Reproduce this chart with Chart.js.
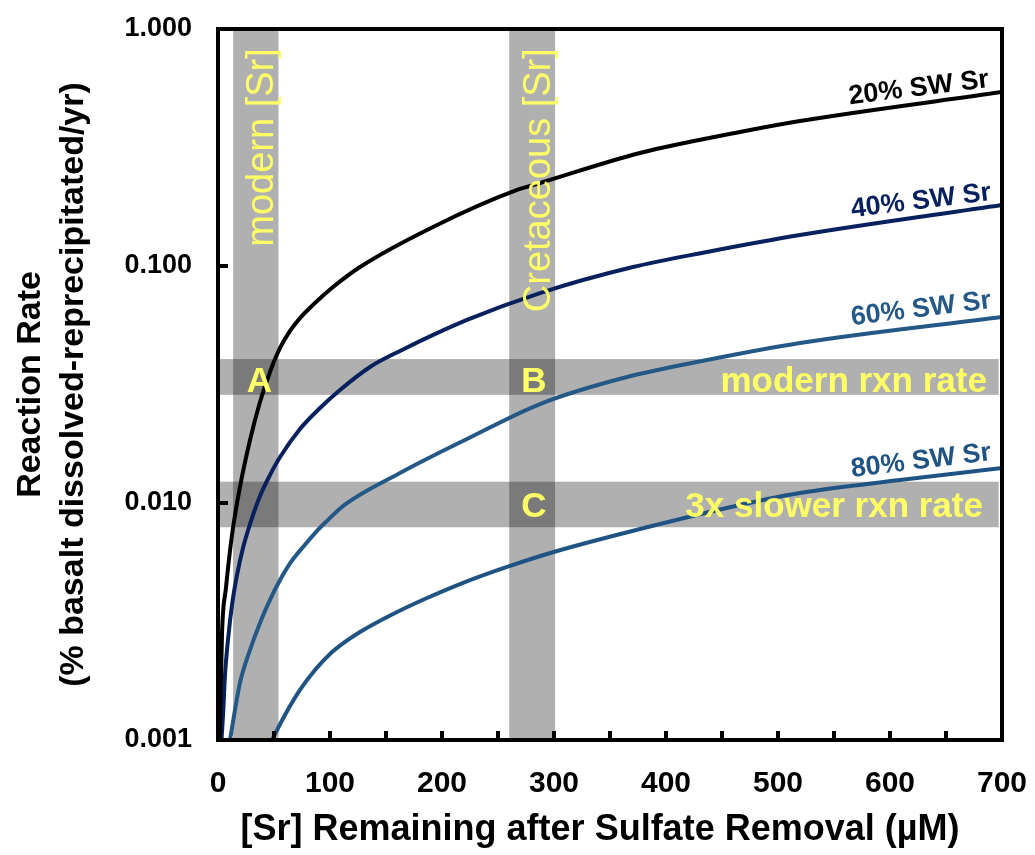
<!DOCTYPE html>
<html>
<head>
<meta charset="utf-8">
<script src="https://cdn.jsdelivr.net/npm/chart.js@4.4.1/dist/chart.umd.min.js"></script>
<style>
  html, body { margin: 0; padding: 0; background: #fff; }
</style>
</head>
<body>
<canvas id="srChart" width="1035" height="855"></canvas>
<script>
// curve values: [Sr] (uM) vs reaction rate
const sr20X = [1.5, 3.6, 7.1, 12.5, 19.6, 28.6, 37.5, 46.4, 55.4, 64.3, 73.2, 86.6, 102.7, 126.8, 192, 267, 287.5, 376.8, 466, 519.6, 700];
const sr20Y = [0.001, 0.00283, 0.00438, 0.00733, 0.01168, 0.01845, 0.02668, 0.0357, 0.0451, 0.0532, 0.0603, 0.0698, 0.0815, 0.099, 0.1461, 0.2093, 0.224, 0.2998, 0.3676, 0.4091, 0.542];

const sr40X = [3.1, 4.5, 6.25, 8.9, 12.5, 17, 22.3, 28.6, 37.5, 46.4, 55.4, 73.2, 91.1, 108.9, 135.7, 162.5, 222.3, 287.5, 370.5, 436.6, 519.6, 700];
const sr40Y = [0.001, 0.001275, 0.00188, 0.00264, 0.00371, 0.00497, 0.00646, 0.00815, 0.0107, 0.01312, 0.01563, 0.02052, 0.02517, 0.02998, 0.0375, 0.0438, 0.0592, 0.0769, 0.099, 0.1146, 0.1351, 0.1809];

const sr60X = [10.7, 19.6, 28.6, 37.5, 46.4, 55.4, 65.2, 75.9, 86.6, 97.3, 111.6, 162.5, 222.3, 287.5, 365.2, 436.6, 519.6, 700];
const sr60Y = [0.001, 0.00174, 0.0024, 0.00312, 0.0039, 0.00473, 0.00564, 0.00652, 0.00747, 0.0084, 0.00971, 0.01338, 0.01862, 0.02616, 0.034, 0.0401, 0.0473, 0.0609];

const sr80X = [48.2, 59.8, 73.2, 86.6, 100, 113.4, 126.8, 156.3, 186.6, 216.1, 260.7, 302.7, 376.8, 466.1, 519.6, 608.9, 700];
const sr80Y = [0.001, 0.001275, 0.001626, 0.001974, 0.002306, 0.002592, 0.002856, 0.003401, 0.003973, 0.004551, 0.005424, 0.006273, 0.007768, 0.009808, 0.01102, 0.0125, 0.01405];

const seriesNames = ["20% SW Sr", "40% SW Sr", "60% SW Sr", "80% SW Sr"];
const seriesColors = ["#000000", "#07205e", "#245886", "#1f5383"];

const xTicks = [0, 100, 200, 300, 400, 500, 600, 700];
const xTickMarks = [50, 100, 150, 200, 250, 300, 350, 400, 450, 500, 550, 600, 650];
const yTicks = [0.001, 0.01, 0.1, 1];
const yTickMarks = [0.01, 0.1];

// shaded bands: [Sr] ranges and rate ranges
const srBands = [[13.5, 54], [260, 301]];
const rateBands = [[0.0286, 0.0405], [0.0079, 0.0123]];
const rateBandEnd = 697;

const bandColor = "rgba(0,0,0,0.31)";
const yellow = "#ffff66";

const curveLabelPos = [[689, 0.569], [691, 0.19], [691, 0.0665], [691, 0.0152]];

const series = [
  [sr20X, sr20Y], [sr40X, sr40Y], [sr60X, sr60Y], [sr80X, sr80Y]
];

const datasets = series.map(function(s, i){
  return {
    label: seriesNames[i],
    data: s[0].map(function(x, j){ return { x: x, y: s[1][j] }; }),
    borderColor: seriesColors[i],
    borderWidth: 4,
    pointRadius: 0,
    fill: false,
    cubicInterpolationMode: "monotone"
  };
});

const FONT = "'Liberation Sans', Arial, sans-serif";

function noScalePadding(s){
  s.paddingTop = 0;
  s.paddingBottom = 0;
  s.paddingLeft = 0;
  s.paddingRight = 0;
}

const bandsPlugin = {
  id: "bands",
  beforeDatasetsDraw(chart){
    const { ctx, chartArea: a, scales: { x, y } } = chart;
    ctx.save();
    ctx.fillStyle = bandColor;
    srBands.forEach(function(b){
      const x1 = x.getPixelForValue(b[0]), x2 = x.getPixelForValue(b[1]);
      ctx.fillRect(x1, a.top, x2 - x1, a.bottom - a.top);
    });
    const xe = x.getPixelForValue(rateBandEnd);
    rateBands.forEach(function(b){
      const y1 = y.getPixelForValue(b[1]), y2 = y.getPixelForValue(b[0]);
      ctx.fillRect(a.left, y1, xe - a.left, y2 - y1);
    });
    ctx.restore();
  },
  afterDatasetsDraw(chart){
    const { ctx, chartArea: a, scales: { x, y } } = chart;
    ctx.save();

    // vertical band labels
    ctx.fillStyle = yellow;
    ctx.font = "38px " + FONT;
    ctx.textAlign = "right";
    ctx.textBaseline = "alphabetic";
    [["modern [Sr]", 49], ["Cretaceous [Sr]", 296.5]].forEach(function(t){
      ctx.save();
      ctx.translate(x.getPixelForValue(t[1]), y.getPixelForValue(0.83));
      ctx.rotate(-Math.PI / 2);
      ctx.fillText(t[0], 0, 0);
      ctx.restore();
    });

    // letters and rate labels
    ctx.font = "bold 35px " + FONT;
    ctx.textAlign = "center";
    ctx.fillText("A", x.getPixelForValue(37), y.getPixelForValue(0.0294));
    ctx.fillText("B", x.getPixelForValue(282), y.getPixelForValue(0.0294));
    ctx.fillText("C", x.getPixelForValue(282), y.getPixelForValue(0.0087));
    ctx.textAlign = "right";
    ctx.fillText("modern rxn rate", x.getPixelForValue(686.5), y.getPixelForValue(0.0294));
    ctx.fillText("3x slower rxn rate", x.getPixelForValue(683), y.getPixelForValue(0.0087));

    // curve labels
    ctx.font = "bold 27px " + FONT;
    curveLabelPos.forEach(function(p, i){
      ctx.save();
      ctx.fillStyle = seriesColors[i];
      ctx.translate(x.getPixelForValue(p[0]), y.getPixelForValue(p[1]));
      ctx.rotate(-7 * Math.PI / 180);
      ctx.fillText(seriesNames[i], 0, 0);
      ctx.restore();
    });

    // frame and inward tick marks
    ctx.strokeStyle = "#000";
    ctx.lineWidth = 4;
    ctx.strokeRect(a.left, a.top, a.right - a.left, a.bottom - a.top);
    ctx.beginPath();
    xTickMarks.forEach(function(v){
      const px = x.getPixelForValue(v);
      ctx.moveTo(px, a.bottom);
      ctx.lineTo(px, a.bottom - 9);
    });
    yTickMarks.forEach(function(v){
      const py = y.getPixelForValue(v);
      ctx.moveTo(a.left, py);
      ctx.lineTo(a.left + 10, py);
    });
    ctx.stroke();
    ctx.restore();
  }
};

new Chart(document.getElementById("srChart"), {
  type: "line",
  data: { datasets: datasets },
  plugins: [bandsPlugin],
  options: {
    responsive: false,
    animation: false,
    layout: { padding: { left: 0, top: 29, right: 33, bottom: 0 } },
    plugins: {
      legend: { display: false },
      tooltip: { enabled: false }
    },
    scales: {
      x: {
        type: "linear",
        min: 0,
        max: 700,
        afterBuildTicks: function(s){ s.ticks = xTicks.map(function(v){ return { value: v }; }); },
        afterFit: function(s){ s.height = 115; noScalePadding(s); },
        grid: { display: false, drawTicks: false },
        border: { display: false },
        ticks: {
          color: "#000",
          padding: 26,
          maxRotation: 0,
          font: { family: FONT, size: 30, weight: "bold" }
        },
        title: {
          display: true,
          // trailing spaces nudge the centred title a little left, as in the original
          text: "[Sr] Remaining after Sulfate Removal (µM)  ",
          color: "#000",
          padding: { top: 0, bottom: 3 },
          font: { family: FONT, size: 36, weight: "bold" }
        }
      },
      y: {
        type: "logarithmic",
        min: 0.001,
        max: 1,
        afterBuildTicks: function(s){ s.ticks = yTicks.map(function(v){ return { value: v }; }); },
        afterFit: function(s){ s.width = 218; noScalePadding(s); },
        grid: { display: false, drawTicks: false },
        border: { display: false },
        ticks: {
          color: "#000",
          padding: 26,
          font: { family: FONT, size: 27, weight: "bold" },
          callback: function(v){ return Number(v).toFixed(3); }
        },
        title: {
          display: true,
          text: ["Reaction Rate", "(% basalt dissolved-reprecipitated/yr)"],
          color: "#000",
          padding: { top: 10, bottom: 0 },
          font: { family: FONT, size: 34, weight: "bold", lineHeight: 1.24 }
        }
      }
    }
  }
});
</script>
</body>
</html>
